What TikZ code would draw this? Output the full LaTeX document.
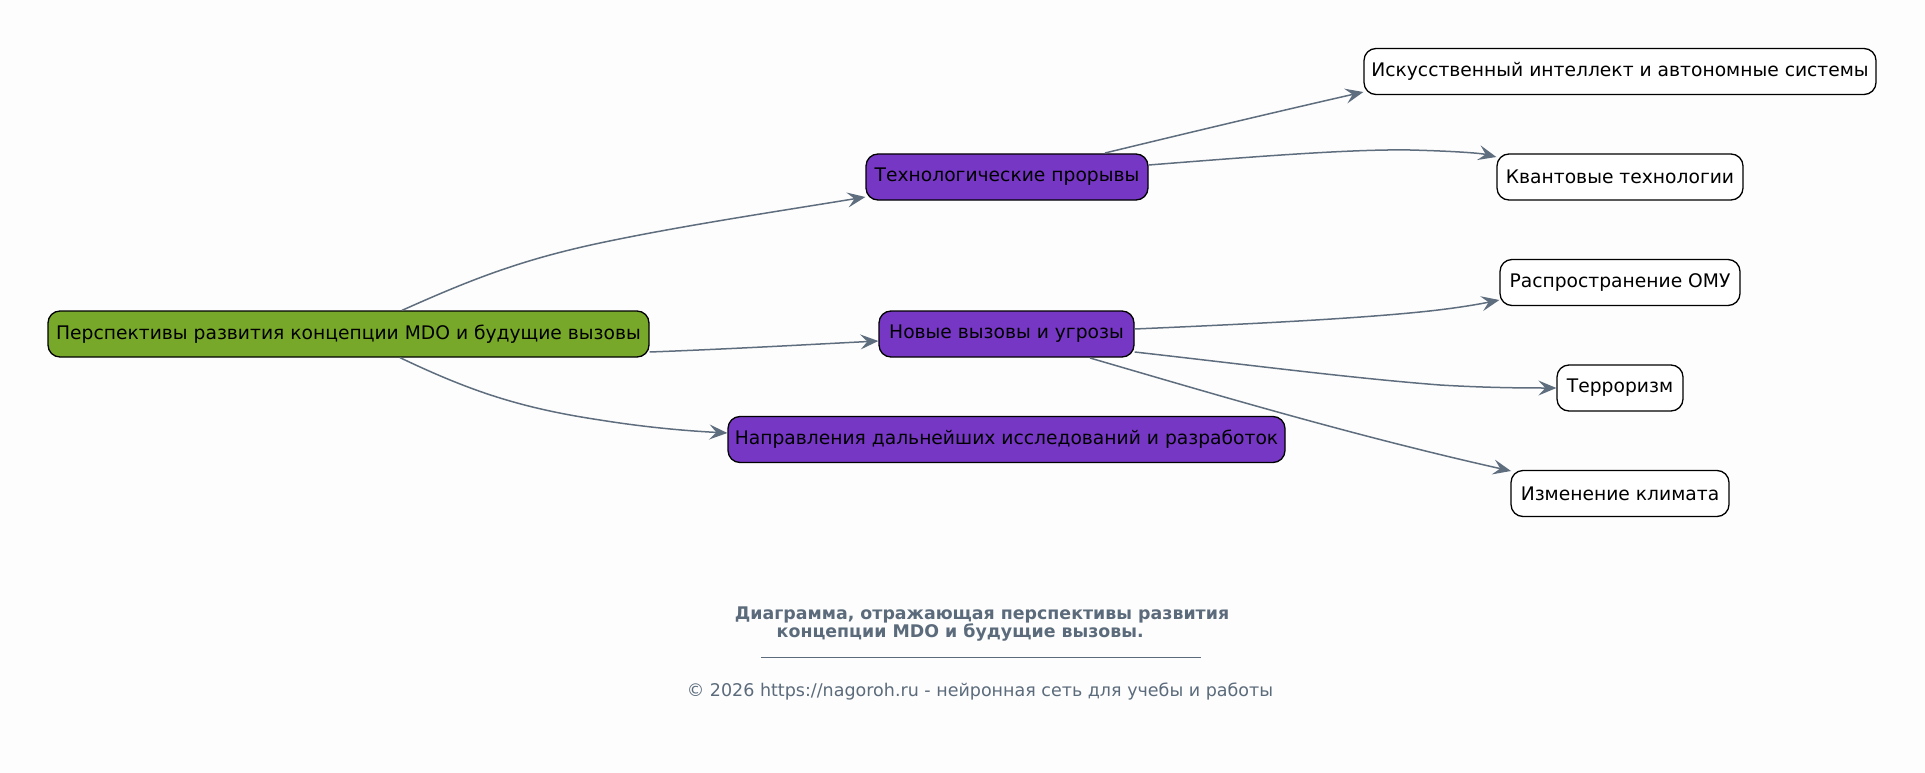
\documentclass[tikz,border=0pt]{standalone}
\usepackage{fontspec}
\setmainfont{DejaVu Sans}
\usetikzlibrary{arrows.meta}
\definecolor{bgc}{HTML}{FDFDFD}
\definecolor{rootc}{HTML}{78A82A}
\definecolor{purp}{HTML}{7637C4}
\definecolor{edgec}{HTML}{5F6E7E}
\definecolor{capc}{HTML}{5B6B7B}
\tikzset{
  box/.style={draw=black, line width=1.3pt, rounded corners=12pt, inner sep=0pt, minimum height=46pt, font=\fontsize{18.7}{21}\selectfont, text=black},
  rootbox/.style={box, fill=rootc},
  midbox/.style={box, fill=purp},
  leafbox/.style={box, fill=white},
  conn/.style={draw=edgec, line width=1.5pt, -{Stealth[length=18pt,width=15pt,inset=7pt]}},
}
\begin{document}
\begin{tikzpicture}[x=1pt,y=-1pt]
\fill[bgc] (0,0) rectangle (1925,773);
\useasboundingbox (0,0) rectangle (1925,773);

\node[rootbox, minimum width=601pt] (root) at (348.5,334) {Перспективы развития концепции MDO и будущие вызовы};
\node[midbox, minimum width=282pt] (tech) at (1007,177) {Технологические прорывы};
\node[midbox, minimum width=255pt] (new) at (1006.5,334) {Новые вызовы и угрозы};
\node[midbox, minimum width=557pt] (dir) at (1006.5,439.5) {Направления дальнейших исследований и разработок};
\node[leafbox, minimum width=512pt] (ai) at (1620,71.5) {Искусственный интеллект и автономные системы};
\node[leafbox, minimum width=246pt] (qt) at (1620,177) {Квантовые технологии};
\node[leafbox, minimum width=240pt] (omu) at (1620,282.5) {Распространение ОМУ};
\node[leafbox, minimum width=126pt] (ter) at (1620,388) {Терроризм};
\node[leafbox, minimum width=218pt] (cli) at (1620,493.5) {Изменение климата};

\draw[conn] (root.north -| 402,0) .. controls (470,280) and (520,260) .. (600,243) .. controls (680,226) and (780,211) .. (tech.west |- 0,197);
\draw[conn] (root.east |- 0,352) .. controls (730,349) and (800,345) .. (new.west |- 0,341);
\draw[conn] (root.south -| 400,0) .. controls (470,391) and (520,408) .. (600,420) .. controls (650,428) and (690,431) .. (dir.west |- 0,433);
\draw[conn] (1105,153) .. controls (1200,130) and (1280,111) .. (ai.west |- 0,92);
\draw[conn] (tech.east |- 0,165) .. controls (1250,157) and (1350,149) .. (1410,150) .. controls (1450,151) and (1480,153) .. (qt.west |- 0,157);
\draw[conn] (new.east |- 0,329) .. controls (1250,324) and (1350,319) .. (1420,312) .. controls (1450,309) and (1475,305) .. (omu.west |- 0,300);
\draw[conn] (new.east |- 0,352) .. controls (1250,365) and (1350,378) .. (1440,385) .. controls (1490,388) and (1530,388) .. (ter.west |- 0,388);
\draw[conn] (1090,358) .. controls (1200,390) and (1350,435) .. (1511,471);

\node[font=\bfseries\fontsize{17.4}{18.5}\selectfont, text=capc, align=center] (cap) at (982,624) {Диаграмма, отражающая перспективы развития\\концепции MDO и будущие вызовы.\hspace*{2.5em}};
\draw[capc, line width=0.8pt] (761,657) coordinate (ul) -- (1201,657) coordinate (ur);
\node[font=\fontsize{17.5}{19}\selectfont, text=capc] (copy) at (980,692) {© 2026 https://nagoroh.ru - нейронная сеть для учебы и работы};
\end{tikzpicture}
\end{document}
